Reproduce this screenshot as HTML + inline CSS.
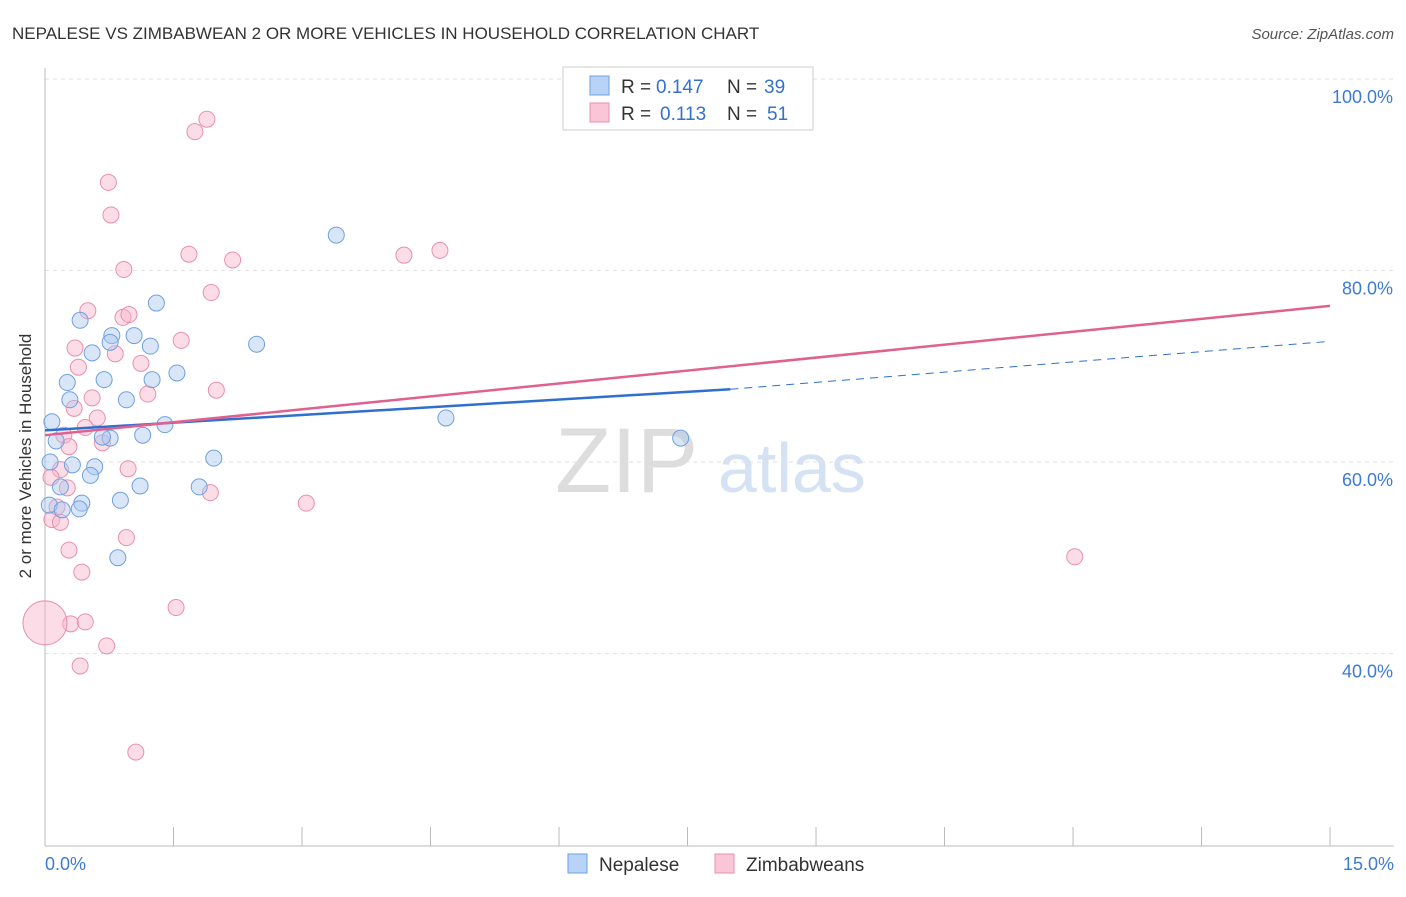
<!DOCTYPE html>
<html><head><meta charset="utf-8"><style>
body{margin:0;background:#fff;font-family:"Liberation Sans",sans-serif;}
svg text{font-family:"Liberation Sans",sans-serif;}
</style></head><body>
<svg id="chart" width="1406" height="892">
<text x="12" y="39" font-size="17" fill="#333">NEPALESE VS ZIMBABWEAN 2 OR MORE VEHICLES IN HOUSEHOLD CORRELATION CHART</text>
<text x="1394" y="39" font-size="15" fill="#555" text-anchor="end" font-style="italic">Source: ZipAtlas.com</text>
<g id="grid"></g>
<text x="555" y="492" font-size="92" fill="#ddd" font-family="Liberation Serif">ZIP</text>
<text x="718" y="492" font-size="70" fill="#d4e2f3">atlas</text>
<text x="31" y="456" font-size="17" fill="#333" text-anchor="middle" transform="rotate(-90 31 456)">2 or more Vehicles in Household</text>
<g id="marks"></g>
<g>
<rect x="563" y="67" width="250" height="63" fill="#fff" stroke="#ccc"/>
<rect x="590" y="76" width="19" height="19" fill="#b8d3f5" stroke="#6fa0e0"/>
<text x="621" y="93" font-size="19" fill="#333">R =</text>
<text x="656" y="93" font-size="19" fill="#3370d0">0.147</text>
<text x="727" y="93" font-size="19" fill="#333">N =</text>
<text x="764" y="93" font-size="19" fill="#3370d0">39</text>
<rect x="590" y="103" width="19" height="19" fill="#f8c6d6" stroke="#e890ac"/>
<text x="621" y="120" font-size="19" fill="#333">R =</text>
<text x="660" y="120" font-size="19" fill="#3370d0">0.113</text>
<text x="727" y="120" font-size="19" fill="#333">N =</text>
<text x="767" y="120" font-size="19" fill="#3370d0">51</text>
</g>
<g>
<rect x="568" y="854" width="19" height="19" fill="#b8d3f5" stroke="#6fa0e0"/>
<text x="599" y="871" font-size="19" fill="#333">Nepalese</text>
<rect x="715" y="854" width="19" height="19" fill="#f8c6d6" stroke="#e890ac"/>
<text x="746" y="871" font-size="19" fill="#333">Zimbabweans</text>
</g>
</svg>
<script>
const yTicks=[100,80,60,40];
const xLabels=["0.0%","15.0%"];
const blueX=[.08,.13,.06,.05,.41,.55,.26,.29,.69,.78,.76,1.04,1.23,1.30,1.25,.95,.76,1.14,1.40,1.54,2.47,3.40,.32,.58,.53,.18,.43,.40,.20,.88,1.11,1.97,1.80,.85,4.68,7.42,.67];
const blueY=[64.2,62.2,60.0,55.5,74.8,71.4,68.3,66.5,68.6,73.2,72.5,73.2,72.1,76.6,68.6,66.5,62.5,62.8,63.9,69.3,72.3,83.7,59.7,59.5,58.6,57.4,55.7,55.1,55.0,56.0,57.5,60.4,57.4,50.0,64.6,62.5,62.6];
const pinkX=[1.89,1.75,.74,.77,1.68,2.19,4.19,4.61,.92,1.94,.50,.91,.98,1.59,.35,.82,1.12,.39,1.20,2.00,.55,.34,.61,.47,.22,.67,.28,.18,.97,.07,.26,1.93,3.05,.14,.08,.18,.95,.28,.43,1.53,.30,.47,0,.72,.41,1.06,12.02];
const pinkY=[95.8,94.5,89.2,85.8,81.7,81.1,81.6,82.1,80.1,77.7,75.8,75.1,75.4,72.7,71.9,71.3,70.3,69.9,67.1,67.5,66.7,65.6,64.6,63.6,62.8,62.0,61.6,59.2,59.3,58.4,57.3,56.8,55.7,55.3,54.0,53.7,52.1,50.8,48.5,44.8,43.1,43.3,43.2,40.8,38.7,29.7,50.1];
const blueTrend=[63.3,67.6,72.6]; // at x=0, 8, 15
const pinkTrend=[62.8,76.3];      // at x=0, 15
const X=v=>45+v*85.67, Y=v=>79+(100-v)*9.575;
const NS="http://www.w3.org/2000/svg";
function mk(t,a,p){const e=document.createElementNS(NS,t);for(const k in a)e.setAttribute(k,a[k]);p.appendChild(e);return e;}
const g=document.getElementById('grid');
yTicks.forEach(v=>{
 const l=mk('line',{x1:45,x2:1394,y1:Y(v),y2:Y(v),stroke:'#e2e2e2','stroke-dasharray':'4,4'},g);
 
 
 const t=mk('text',{x:1393,y:Y(v)+24,'font-size':18,fill:'#3d7ad6','text-anchor':'end'},g);t.textContent=v.toFixed(1)+'%';
 
 
});
const ax=mk('line',{x1:45,x2:1394,y1:846,y2:846,stroke:'#bbb'},g);


const ay=mk('line',{x1:45,x2:45,y1:68,y2:846,stroke:'#bbb'},g);


for(let i=0;i<=10;i++){const tk=mk('line',{x1:X(i*1.5),x2:X(i*1.5),y1:827,y2:846,stroke:'#bbb'},g);
 
 }
[[0,45,'start'],[15,1394,'end']].forEach((d,i)=>{const t=mk('text',{x:d[1],y:870,'font-size':18,fill:'#3d7ad6','text-anchor':d[2]},g);t.textContent=xLabels[i];
 
 });
const m=document.getElementById('marks');
pinkX.forEach((x,i)=>{const c=mk('circle',{cx:X(x),cy:Y(pinkY[i]),r:x===0?22:8,fill:'rgba(248,180,202,0.45)',stroke:'#e890ac','stroke-width':1},m);
 
 });
blueX.forEach((x,i)=>{const c=mk('circle',{cx:X(x),cy:Y(blueY[i]),r:8,fill:'rgba(170,200,240,0.45)',stroke:'#6fa0e0','stroke-width':1},m);
 
 });
const bt=mk('line',{x1:X(0),y1:Y(blueTrend[0]),x2:X(8),y2:Y(blueTrend[1]),stroke:'#2f6fd0','stroke-width':2.5},m);


const bd=mk('line',{x1:X(8),y1:Y(blueTrend[1]),x2:X(15),y2:Y(blueTrend[2]),stroke:'#2f6fd0','stroke-width':1,'stroke-dasharray':'8,6'},m);


const pt=mk('line',{x1:X(0),y1:Y(pinkTrend[0]),x2:X(15),y2:Y(pinkTrend[1]),stroke:'#e0608e','stroke-width':2.5},m);


</script>
</body></html>
